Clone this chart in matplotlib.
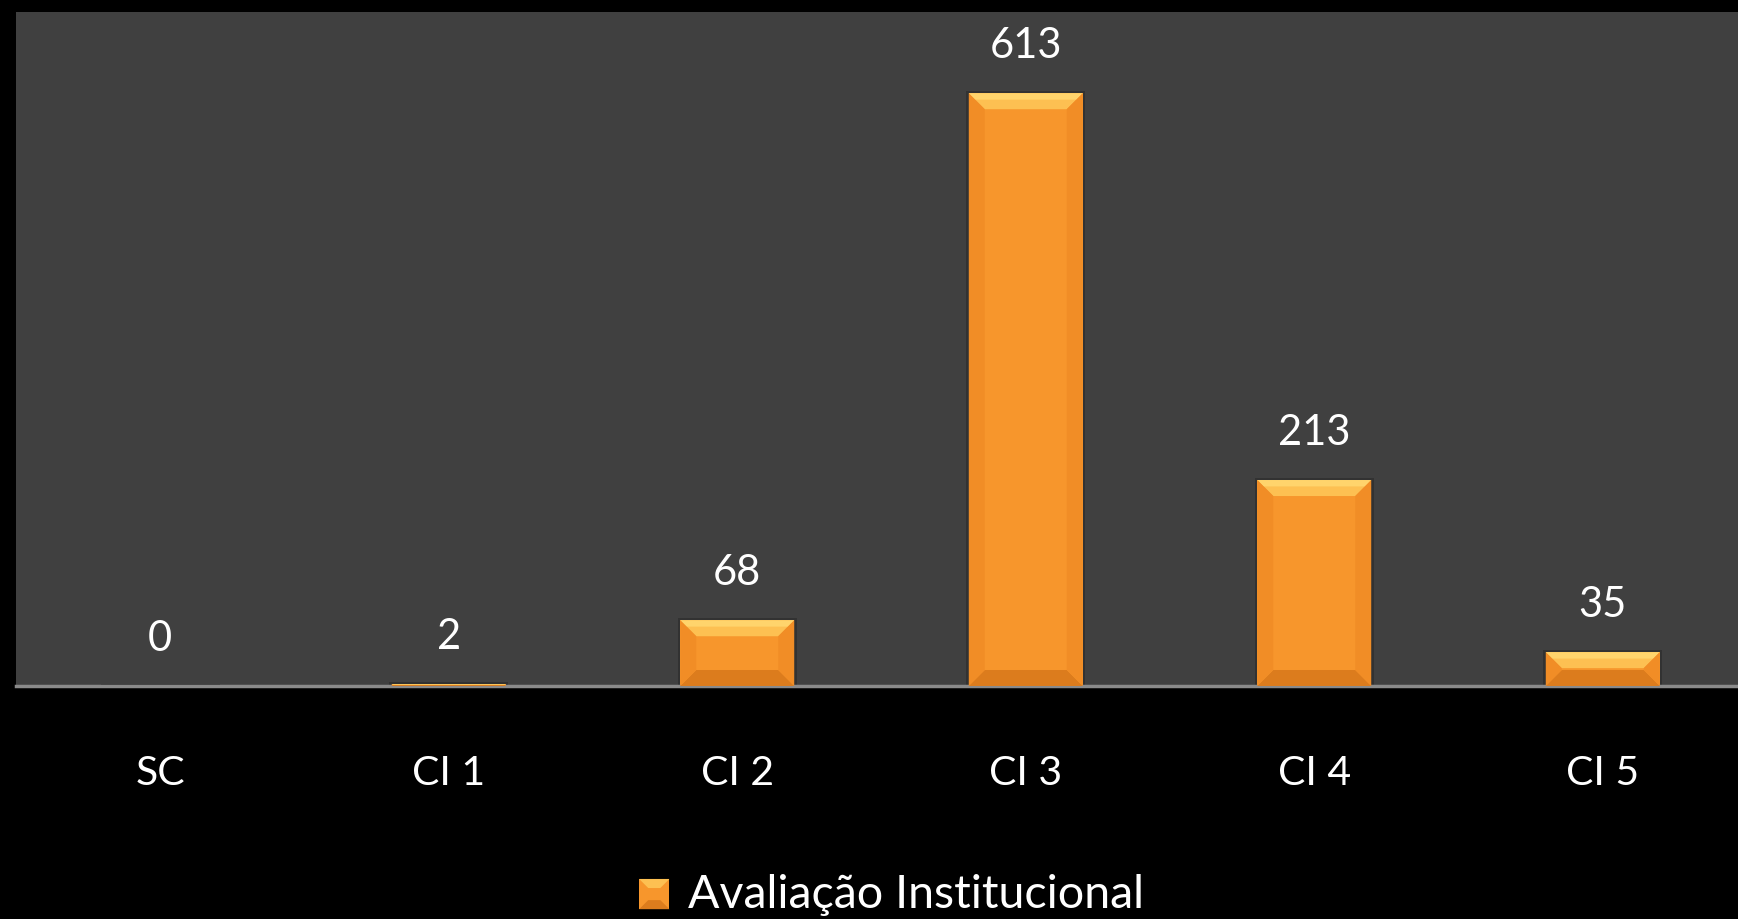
"""Institutional evaluation counts per concept level, drawn as bevelled bars."""

import matplotlib
matplotlib.use("Agg")
import matplotlib.pyplot as plt
from matplotlib.patches import Polygon, Rectangle
from matplotlib.legend_handler import HandlerBase

categories = ["SC", "CI 1", "CI 2", "CI 3", "CI 4", "CI 5"]
counts = [0, 2, 68, 613, 213, 35]
series_name = "Avaliação Institucional"

FACE = "#F7962C"
TOP = "#FDC052"
TOP_EDGE = "#FFD46C"
SIDE = "#F18D26"
BOTTOM = "#DC7C1D"
FONT = ["Lato", "DejaVu Sans"]

plt.rcParams["font.family"] = FONT


def _bevel(ax, x0, x1, y0, y1, depth_px=16):
    """Overlay light/dark bevel trapezoids on a bar given in data coords."""
    to_px = ax.transData
    to_data = ax.transData.inverted()
    (px0, py0), (px1, py1) = to_px.transform([(x0, y0), (x1, y1)])
    b = min(depth_px, (px1 - px0) / 2, (py1 - py0) / 2)
    if b <= 0:
        return
    outer = [(px0, py0), (px1, py0), (px1, py1), (px0, py1)]
    inner = [(px0 + b, py0 + b), (px1 - b, py0 + b), (px1 - b, py1 - b), (px0 + b, py1 - b)]
    h = b * 0.4
    faces = [
        ([outer[3], outer[2], inner[2], inner[3]], TOP),
        # brighter rim along the very top edge
        ([outer[3], outer[2], (px1 - h, py1 - h), (px0 + h, py1 - h)], TOP_EDGE),
        ([outer[0], outer[1], inner[1], inner[0]], BOTTOM),
        ([outer[0], outer[3], inner[3], inner[0]], SIDE),
        ([outer[1], outer[2], inner[2], inner[1]], SIDE),
    ]
    for pts, col in faces:
        ax.add_patch(Polygon(to_data.transform(pts), closed=True, facecolor=col,
                             edgecolor="none", zorder=3))


class BevelHandler(HandlerBase):
    def create_artists(self, legend, orig_handle, xdescent, ydescent, width, height,
                       fontsize, trans):
        s = min(width, height)
        x0 = -xdescent + (width - s) / 2
        y0 = -ydescent + (height - s) / 2 - s * 0.08
        sq = Rectangle((x0, y0), s, s, facecolor=FACE, edgecolor="none", transform=trans)
        b = s * 0.3
        tri = Polygon([(x0, y0 + s), (x0 + s, y0 + s), (x0 + s - b, y0 + s - b),
                       (x0 + b, y0 + s - b)], facecolor=TOP, edgecolor="none", transform=trans)
        bot = Polygon([(x0, y0), (x0 + s, y0), (x0 + s - b, y0 + b), (x0 + b, y0 + b)],
                      facecolor=BOTTOM, edgecolor="none", transform=trans)
        return [sq, tri, bot]


fig = plt.figure(figsize=(17.38, 9.19), dpi=100, facecolor="black")
ax = fig.add_axes([16 / 1738, 233 / 919, 1731 / 1738, 674 / 919])
ax.set_facecolor("#404040")

x = list(range(len(categories)))
width = 0.395
bars = ax.bar(x, counts, width=width, color=FACE, edgecolor="none", zorder=2,
              label=series_name)
ax.set_xlim(-0.5, len(categories) - 0.5)
ax.set_ylim(0, 697)

for xi, v in zip(x, counts):
    # soft shadow behind each bar
    ax.add_patch(Rectangle((xi - width / 2 - 0.008, 0), width + 0.016, v + 2.5,
                           facecolor="#2a2a2a", edgecolor="none", alpha=0.6, zorder=1))
    _bevel(ax, xi - width / 2, xi + width / 2, 0, v)
    ax.annotate(f"{v}", (xi, v), xytext=(0, 20), textcoords="offset points",
                ha="center", va="bottom", color="white", fontsize=30)

for side in ("top", "left", "right"):
    ax.spines[side].set_visible(False)
ax.spines["bottom"].set_color("#8a8a8a")
ax.spines["bottom"].set_linewidth(2.5)
ax.set_yticks([])
ax.set_xticks(x)
ax.set_xticklabels(categories, color="white", fontsize=29.5)
ax.tick_params(axis="x", length=0, pad=50)

fig.legend(handles=[bars], labels=[series_name], loc="center",
           bbox_to_anchor=(0.513, 24 / 919), frameon=False, fontsize=33.5,
           labelcolor="white", handlelength=0.65, handleheight=0.65, handletextpad=0.4,
           borderpad=0, handler_map={type(bars): BevelHandler()})

fig.savefig("out.png", dpi=100, facecolor="black")
